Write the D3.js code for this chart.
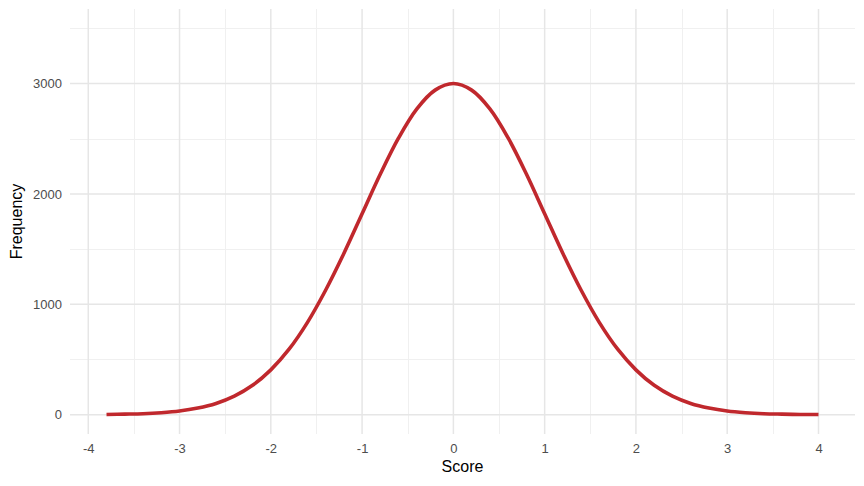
<!DOCTYPE html>
<html>
<head>
<meta charset="utf-8">
<script src="https://cdn.jsdelivr.net/npm/d3@7"></script>
<style>
  body { margin: 0; background: #fff; }
  text { font-family: "Liberation Sans", Arial, Helvetica, sans-serif; }
</style>
</head>
<body>
<div id="chart-area"></div>
<script>
// Score vs frequency
var scores = [-3.8, -3.6, -3.4, -3.2, -3.0, -2.8, -2.6, -2.4, -2.2, -2.0,
              -1.8, -1.6, -1.4, -1.2, -1.0, -0.8, -0.6, -0.4, -0.2, 0.0,
               0.2,  0.4,  0.6,  0.8,  1.0,  1.2,  1.4,  1.6,  1.8, 2.0,
               2.2,  2.4,  2.6,  2.8,  3.0,  3.2,  3.4,  3.6,  3.8, 4.0];
var freqs  = [2, 5, 9, 18, 33, 60, 102, 168, 266, 406,
              593, 834, 1127, 1460, 1820, 2180, 2507, 2770, 2940, 3000,
              2940, 2770, 2507, 2180, 1820, 1460, 1127, 834, 593, 406,
              266, 168, 102, 60, 33, 18, 9, 5, 2, 1];
var xTicks = [-4, -3, -2, -1, 0, 1, 2, 3, 4];
var xMinor = [-3.5, -2.5, -1.5, -0.5, 0.5, 1.5, 2.5, 3.5];
var yTicks = [0, 1000, 2000, 3000];
var yMinor = [500, 1500, 2500, 3500];

var W = 864, H = 486;
var panel = { left: 70, right: 855, top: 9, bottom: 434 };

var svg = d3.select("#chart-area")
    .append("svg")
      .attr("width", W)
      .attr("height", H);

var x = d3.scaleLinear().domain([-4.2, 4.4]).range([panel.left, panel.right]);
var y = d3.scaleLinear().domain([-175, 3675]).range([panel.bottom, panel.top]);

// snap to half pixels so the thin grid stays crisp
function px(v) { return Math.round(v) + 0.5; }

// minor grid
var grid = svg.append("g");
grid.selectAll(".xminor").data(xMinor).enter().append("line")
    .attr("x1", d => px(x(d))).attr("x2", d => px(x(d)))
    .attr("y1", panel.top).attr("y2", panel.bottom)
    .attr("stroke", "#f0f0f0").attr("stroke-width", 1);
grid.selectAll(".yminor").data(yMinor).enter().append("line")
    .attr("x1", panel.left).attr("x2", panel.right)
    .attr("y1", d => px(y(d))).attr("y2", d => px(y(d)))
    .attr("stroke", "#f0f0f0").attr("stroke-width", 1);
// major grid
grid.selectAll(".xmajor").data(xTicks).enter().append("line")
    .attr("x1", d => x(d)).attr("x2", d => x(d))
    .attr("y1", panel.top).attr("y2", panel.bottom)
    .attr("stroke", "#e6e6e6").attr("stroke-width", 1.5);
grid.selectAll(".ymajor").data(yTicks).enter().append("line")
    .attr("x1", panel.left).attr("x2", panel.right)
    .attr("y1", d => y(d)).attr("y2", d => y(d))
    .attr("stroke", "#e6e6e6").attr("stroke-width", 1.5);

// axes (labels only, theme_minimal style)
var xAxis = svg.append("g")
    .attr("transform", "translate(0," + panel.bottom + ")")
    .call(d3.axisBottom(x).tickValues(xTicks).tickSize(0).tickPadding(10).tickFormat(d3.format("d")));
var yAxis = svg.append("g")
    .attr("transform", "translate(" + panel.left + ",0)")
    .call(d3.axisLeft(y).tickValues(yTicks).tickSize(0).tickPadding(8).tickFormat(d3.format("d")));
[xAxis, yAxis].forEach(function(a) {
  a.select(".domain").remove();
  a.selectAll("text").attr("fill", "#4d4d4d").attr("font-size", "13px");
});
xAxis.selectAll("text").text(d => d < 0 ? "-" + Math.abs(d) : d);

// curve
var pts = scores.map((s, i) => ({ s: s, f: freqs[i] }));
var line = d3.line()
    .x(d => x(d.s))
    .y(d => y(d.f))
    .curve(d3.curveCatmullRom);
svg.append("path")
    .attr("d", line(pts))
    .attr("fill", "none")
    .attr("stroke", "#c0282d")
    .attr("stroke-width", 3.6);

// titles
svg.append("text")
    .attr("x", (panel.left + panel.right) / 2)
    .attr("y", 472)
    .attr("text-anchor", "middle")
    .attr("font-size", "16px")
    .attr("fill", "#000")
    .text("Score");
svg.append("text")
    .attr("transform", "translate(22," + ((panel.top + panel.bottom) / 2) + ") rotate(-90)")
    .attr("text-anchor", "middle")
    .attr("font-size", "16px")
    .attr("fill", "#000")
    .text("Frequency");
</script>
</body>
</html>
